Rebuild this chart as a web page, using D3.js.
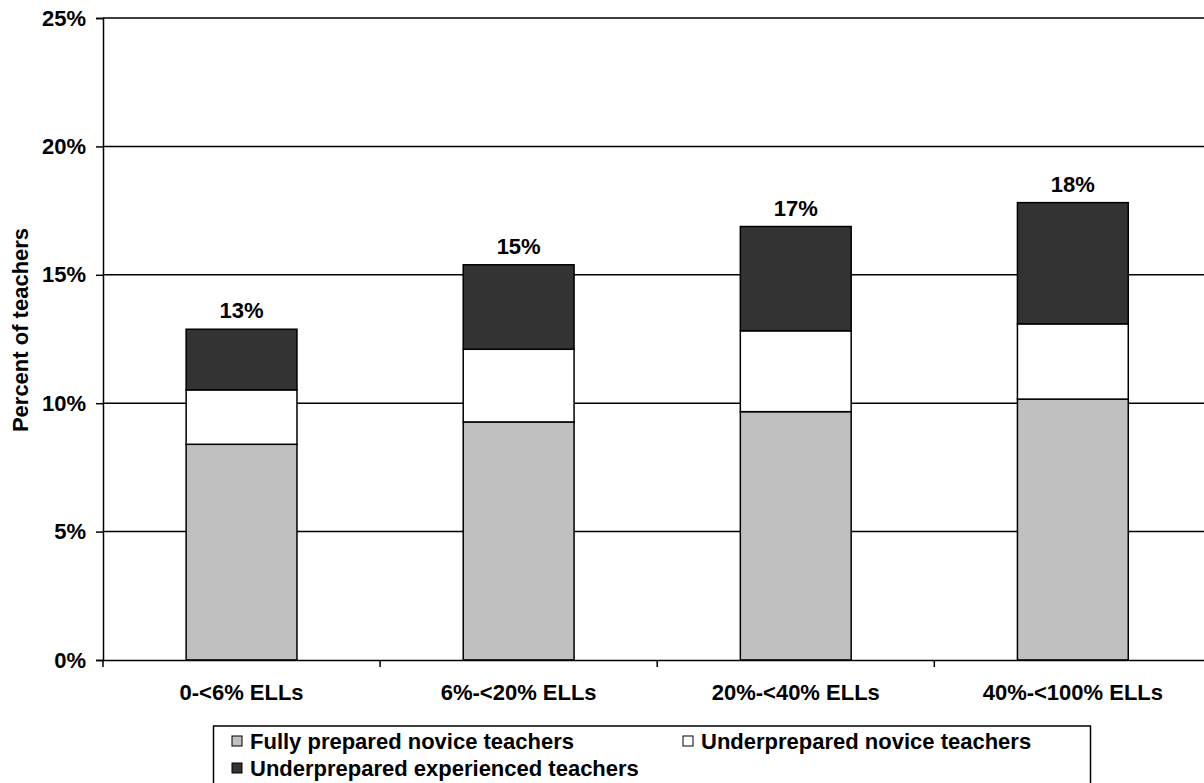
<!DOCTYPE html>
<html>
<head>
<meta charset="utf-8">
<script src="https://cdn.jsdelivr.net/npm/d3@7"></script>
<style>
  html, body { margin: 0; padding: 0; background: #fff; overflow: hidden; }
  text { font-family: "Liberation Sans", Arial, sans-serif; font-weight: bold; fill: #000; }
</style>
</head>
<body>
<svg id="chart" width="1204" height="783"></svg>
<script>
const categories = ["0-<6% ELLs", "6%-<20% ELLs", "20%-<40% ELLs", "40%-<100% ELLs"];
const seriesNames = ["Fully prepared novice teachers", "Underprepared novice teachers", "Underprepared experienced teachers"];
const fullyPrepared = [8.4, 9.27, 9.67, 10.16];
const underpreparedNovice = [2.12, 2.83, 3.15, 2.93];
const underpreparedExperienced = [2.36, 3.29, 4.06, 4.72];
const totalLabels = ["13%", "15%", "17%", "18%"];
const yTicks = [0, 5, 10, 15, 20, 25];
const seriesColors = ["#c0c0c0", "#ffffff", "#333333"];

const FONT = '"Liberation Sans", Arial, sans-serif';
const FS = "22px";
const svg = d3.select("#chart");
const mLeft = 103, mTop = 18, mBottom = 660, step = 277.1;
const mRight = mLeft + step * categories.length;

const x = d3.scaleBand().domain(categories).range([mLeft, mRight]).padding(0);
const y = d3.scaleLinear().domain([0, 25]).range([mBottom, mTop]);
const barW = x.bandwidth() * 0.4;

// gridlines
svg.append("g").selectAll("line").data(yTicks.filter(d => d > 0)).join("line")
  .attr("x1", mLeft).attr("x2", mRight)
  .attr("y1", d => y(d)).attr("y2", d => y(d))
  .attr("stroke", "#000").attr("stroke-width", 1.5);

// stacked data
const rows = categories.map((c, i) => ({cat: c, s0: fullyPrepared[i], s1: underpreparedNovice[i], s2: underpreparedExperienced[i]}));
const stack = d3.stack().keys(["s0", "s1", "s2"])(rows);

svg.append("g").selectAll("g").data(stack).join("g")
  .attr("fill", (d, i) => seriesColors[i])
  .selectAll("rect").data(d => d).join("rect")
  .attr("x", d => x(d.data.cat) + (x.bandwidth() - barW) / 2)
  .attr("width", barW)
  .attr("y", d => y(d[1]))
  .attr("height", d => y(d[0]) - y(d[1]))
  .attr("stroke", "#000").attr("stroke-width", 1.5);

// y axis
const yAxis = d3.axisLeft(y).tickValues(yTicks).tickFormat(d => d + "%").tickSize(7).tickPadding(10);
const gy = svg.append("g").attr("transform", `translate(${mLeft},0)`).call(yAxis);
gy.select(".domain").attr("stroke", "#000").attr("stroke-width", 1.5);
gy.selectAll(".tick line").attr("stroke", "#000").attr("stroke-width", 1.5);
gy.selectAll(".tick text").style("font-family", FONT)
  .style("font-weight", "bold").style("font-size", FS).attr("fill", "#000");

// x axis
const xAxis = d3.axisBottom(x).tickSize(0).tickPadding(24);
const gx = svg.append("g").attr("transform", `translate(0,${mBottom})`).call(xAxis);
gx.select(".domain").attr("stroke", "#000").attr("stroke-width", 1.5);
gx.selectAll(".tick text").style("font-family", FONT)
  .style("font-weight", "bold").style("font-size", FS).attr("fill", "#000");
// category separators
svg.append("g").selectAll("line").data(categories).join("line")
  .attr("x1", d => x(d)).attr("x2", d => x(d))
  .attr("y1", mBottom).attr("y2", mBottom + 7)
  .attr("stroke", "#000").attr("stroke-width", 1.5);

// total labels
svg.append("g").selectAll("text").data(rows).join("text")
  .attr("x", d => x(d.cat) + x.bandwidth() / 2)
  .attr("y", d => y(d.s0 + d.s1 + d.s2) - 11)
  .attr("text-anchor", "middle").style("font-size", FS)
  .text((d, i) => totalLabels[i]);

// y title
svg.append("text")
  .attr("transform", `translate(28,330) rotate(-90)`)
  .attr("text-anchor", "middle").style("font-size", FS)
  .text("Percent of teachers");

// legend
const lg = svg.append("g");
lg.append("rect").attr("x", 213.5).attr("y", 726).attr("width", 877).attr("height", 80)
  .attr("fill", "#fff").attr("stroke", "#000").attr("stroke-width", 1.5);
const legendPos = [[232, 736], [683, 736], [232, 763]];
seriesNames.forEach((n, i) => {
  const [lx, ly] = legendPos[i];
  lg.append("rect").attr("x", lx).attr("y", ly).attr("width", 10).attr("height", 10)
    .attr("fill", seriesColors[i]).attr("stroke", "#000").attr("stroke-width", 1);
  lg.append("text").attr("x", lx + 18).attr("y", ly + 13).style("font-size", FS).text(n);
});
</script>
</body>
</html>
